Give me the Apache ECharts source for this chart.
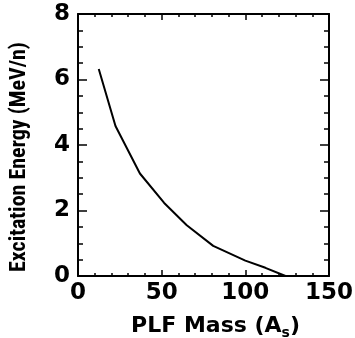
<!DOCTYPE html>
<html><head><meta charset="utf-8">
<script src="https://cdn.jsdelivr.net/npm/echarts@6/dist/echarts.min.js"></script>
<style>html,body{margin:0;padding:0;background:#fff}#c{width:355px;height:338px}</style>
</head><body><div id="c"></div>
<script>
const massValues = [12.4, 22.4, 37, 51.5, 65, 80.8, 100, 112, 124];
const energyValues = [6.32, 4.58, 3.13, 2.23, 1.55, 0.92, 0.47, 0.25, 0];
const xTicks = [0, 50, 100, 150];
const yTicks = [0, 2, 4, 6, 8];

const chart = echarts.init(document.getElementById('c'));
const wide = 'DejaVu Sans, Liberation Sans, Arial, sans-serif';
const narrow = 'Roboto Condensed, Liberation Sans, sans-serif';
const axisLine = {show: true, onZero: false, lineStyle: {color: '#000', width: 2}};
chart.setOption({
  animation: false,
  grid: {left: 78, top: 14, right: 26, bottom: 62, containLabel: false, outerBoundsMode: 'none'},
  xAxis: [{
    type: 'value', min: 0, max: 150, interval: 50, position: 'bottom',
    axisLine: axisLine,
    axisTick: {show: true, inside: true, length: 6, lineStyle: {color: '#000', width: 1.5}},
    minorTick: {show: true, splitNumber: 5, length: 3, lineStyle: {color: '#000', width: 1.5}},
    splitLine: {show: false},
    axisLabel: {color: '#000', fontFamily: wide, fontWeight: 'bold', fontSize: 23, margin: 6,
      formatter: v => xTicks.includes(v) ? String(v) : ''},
    name: '{t|PLF Mass (A}{s|s}{t|)}', nameLocation: 'middle', nameGap: 37,
    nameTextStyle: {padding: [0, 0, 0, 24], rich: {
      t: {color: '#000', fontFamily: wide, fontWeight: 'bold', fontSize: 22},
      s: {color: '#000', fontFamily: wide, fontWeight: 'bold', fontSize: 14, verticalAlign: 'bottom', padding: [13, 0, 0, 0]}
    }}
  }, {
    type: 'value', min: 0, max: 150, interval: 50, position: 'top',
    axisLine: axisLine,
    axisTick: {show: true, inside: true, length: 6, lineStyle: {color: '#000', width: 1.5}},
    minorTick: {show: true, splitNumber: 5, length: 3, lineStyle: {color: '#000', width: 1.5}},
    splitLine: {show: false}, axisLabel: {show: false}
  }],
  yAxis: [{
    type: 'value', min: 0, max: 8, interval: 2, position: 'left',
    axisLine: axisLine,
    axisTick: {show: true, inside: true, length: 9, lineStyle: {color: '#000', width: 1.5}},
    minorTick: {show: true, splitNumber: 4, length: 5, lineStyle: {color: '#000', width: 1.5}},
    splitLine: {show: false},
    axisLabel: {color: '#000', fontFamily: wide, fontWeight: 'bold', fontSize: 23, margin: 8,
      formatter: v => yTicks.includes(v) ? String(v) : ''},
    name: 'Excitation Energy (MeV/n)', nameLocation: 'middle', nameGap: 48, nameRotate: 90,
    nameTextStyle: {color: '#000', fontFamily: narrow, fontWeight: 'bold', fontSize: 22, padding: [0, 24, 0, 0]}
  }, {
    type: 'value', min: 0, max: 8, interval: 2, position: 'right',
    axisLine: axisLine,
    axisTick: {show: true, inside: true, length: 9, lineStyle: {color: '#000', width: 1.5}},
    minorTick: {show: true, splitNumber: 4, length: 5, lineStyle: {color: '#000', width: 1.5}},
    splitLine: {show: false}, axisLabel: {show: false}
  }],
  series: [{
    type: 'line', xAxisIndex: 0, yAxisIndex: 0,
    data: massValues.map((m, i) => [m, energyValues[i]]),
    showSymbol: false, lineStyle: {color: '#000', width: 2}
  }]
});
</script></body></html>
